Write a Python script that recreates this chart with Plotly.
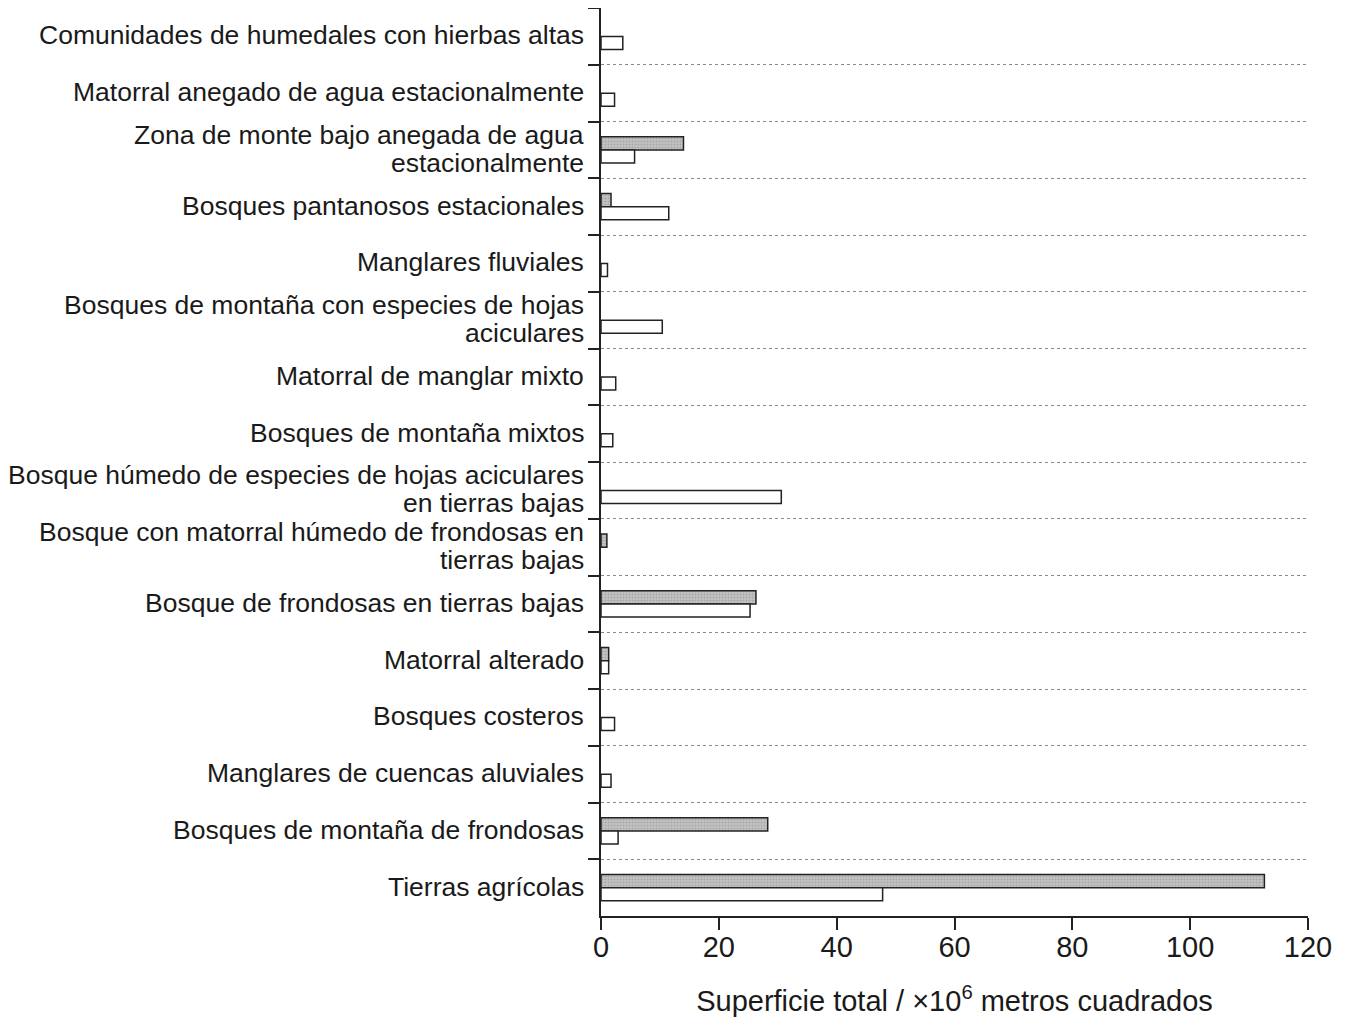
import plotly.graph_objects as go

categories = [
    "Comunidades de humedales con hierbas altas",
    "Matorral anegado de agua estacionalmente",
    "Zona de monte bajo anegada de agua<br>estacionalmente",
    "Bosques pantanosos estacionales",
    "Manglares fluviales",
    "Bosques de montaña con especies de hojas<br>aciculares",
    "Matorral de manglar mixto",
    "Bosques de montaña mixtos",
    "Bosque húmedo de especies de hojas aciculares<br>en tierras bajas",
    "Bosque con matorral húmedo de frondosas en<br>tierras bajas",
    "Bosque de frondosas en tierras bajas",
    "Matorral alterado",
    "Bosques costeros",
    "Manglares de cuencas aluviales",
    "Bosques de montaña de frondosas",
    "Tierras agrícolas",
]

serie_gris = [None, None, 14.0, 1.7, None, None, None, None, None, 1.0, 26.3, 1.3, None, None, 28.3, 112.6]
serie_blanca = [3.7, 2.3, 5.7, 11.5, 1.1, 10.4, 2.5, 2.0, 30.6, None, 25.3, 1.3, 2.3, 1.7, 2.9, 47.8]

x_ticks = [0, 20, 40, 60, 80, 100, 120]

FONT = "Liberation Sans, Arial, sans-serif"
TXT = "#1a1a1a"
LINE_GAP = 28

fig = go.Figure()
fig.add_trace(go.Bar(
    y=categories, x=serie_gris, orientation="h", name="gris",
    marker=dict(color="#b4b4b4", line=dict(color="#222", width=1.5),
                pattern=dict(shape=".", fgcolor="#8a8a8a", bgcolor="#c4c4c4", size=3, solidity=0.4)),
))
fig.add_trace(go.Bar(
    y=categories, x=serie_blanca, orientation="h", name="blanca",
    marker=dict(color="white", line=dict(color="#222", width=1.5)),
))

# category labels (tight line spacing as in the reference)
for cat in categories:
    lines = cat.split("<br>")
    n = len(lines)
    for i, ln in enumerate(lines):
        fig.add_annotation(
            xref="paper", x=0, yref="y", y=cat,
            text=ln, showarrow=False, xanchor="right", yanchor="middle",
            xshift=-15, yshift=((n - 1) / 2 - i) * LINE_GAP + 1,
            font=dict(size=26.5, family=FONT, color=TXT),
        )

fig.update_layout(
    width=1338, height=1012,
    barmode="group", bargap=0.54, bargroupgap=0,
    showlegend=False,
    paper_bgcolor="white", plot_bgcolor="white",
    margin=dict(l=593, r=38, t=0, b=104),
    font=dict(family=FONT, color=TXT, size=26),
)
fig.update_yaxes(
    type="category", categoryorder="array", categoryarray=categories,
    autorange="reversed", tickson="boundaries",
    showline=True, linecolor="#222", linewidth=1.5,
    ticks="outside", ticklen=11, tickcolor="#222", tickwidth=1.5,
    showgrid=True, gridcolor="#8a8a8a", griddash="dot", gridwidth=1,
    showticklabels=False,
)
fig.update_xaxes(
    range=[0, 120], tickvals=x_ticks, ticktext=[str(v) for v in x_ticks],
    showline=True, linecolor="#222", linewidth=1.5,
    ticks="outside", ticklen=12, tickcolor="#222", tickwidth=1.5,
    showgrid=False, zeroline=False,
    tickfont=dict(size=29, family=FONT, color=TXT),
    ticklabelstandoff=-8,
    title=dict(text="Superficie total / ×10<sup>6</sup> metros cuadrados",
               font=dict(size=29, family=FONT, color=TXT), standoff=29),
)

fig.write_html("out.html")
